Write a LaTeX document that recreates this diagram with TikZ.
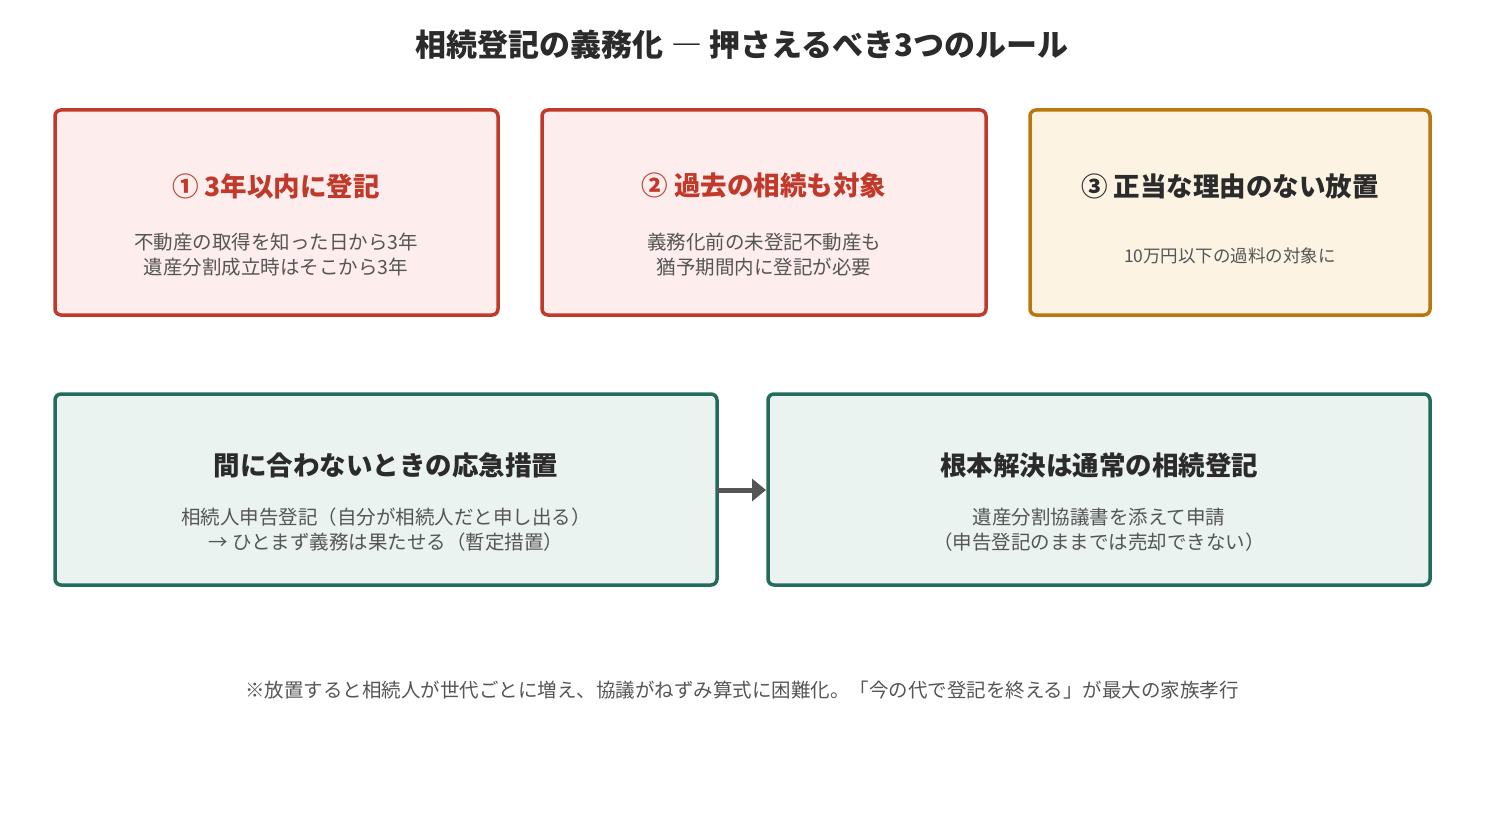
\documentclass[tikz,border=0pt]{standalone}
\usepackage{fontspec}
\setmainfont{Noto Sans CJK JP}
\usetikzlibrary{positioning,arrows.meta}
\definecolor{redline}{HTML}{C0392B}
\definecolor{redfill}{HTML}{FDEDEC}
\definecolor{orline}{HTML}{B9770E}
\definecolor{orfill}{HTML}{FCF3E3}
\definecolor{grline}{HTML}{236B5A}
\definecolor{grfill}{HTML}{EAF3EF}
\definecolor{bodytxt}{HTML}{555555}
\definecolor{headtxt}{HTML}{2B2B2B}
\begin{document}
\begin{tikzpicture}[x=1pt,y=-1pt,
  box/.style={draw,line width=3.5pt,rounded corners=6pt},
  head/.style={font=\fontsize{26.5}{30}\selectfont\bfseries,align=center},
  body/.style={font=\fontsize{19.5}{25}\selectfont,text=bodytxt,align=center}]
  \useasboundingbox (0,0) rectangle (1485,824);

  \node[font=\fontsize{31}{36}\selectfont\bfseries,text=headtxt] (title) at (742,45)
    {相続登記の義務化 ― 押さえるべき3つのルール};

  % three rules
  \draw[box,draw=redline,fill=redfill] (55,110) rectangle (498,315);
  \node[head,text=redline] (h1) at (276,186) {① 3年以内に登記};
  \node[body] (b1) at (276,255) {不動産の取得を知った日から3年\\遺産分割成立時はそこから3年};

  \draw[box,draw=orline,fill=orfill] (1030,110) rectangle (1430,315);
  \node[head,text=headtxt] (h3) at (1230,186) {③ 正当な理由のない放置};
  \node[body,font=\fontsize{17.5}{22}\selectfont] (b3) at (1230,256) {10万円以下の過料の対象に};

  \draw[box,draw=redline,fill=redfill] (542,110) rectangle (986,315);
  \node[head,text=redline] (h2) at (764,186) {② 過去の相続も対象};
  \node[body] (b2) at (764,255) {義務化前の未登記不動産も\\猶予期間内に登記が必要};

  % measures
  \draw[box,draw=grline,fill=grfill] (55,394) rectangle (717,585);
  \node[head,text=headtxt] (h4) at (386,465) {間に合わないときの応急措置};
  \node[body] (b4) at (386,530) {相続人申告登記（自分が相続人だと申し出る）\\→ ひとまず義務は果たせる（暫定措置）};
  \coordinate (p) at (717,490);

  \draw[box,draw=grline,fill=grfill] (768,394) rectangle (1430,585);
  \node[head,text=headtxt] (h5) at (1099,465) {根本解決は通常の相続登記};
  \node[body] (b5) at (1099,530) {遺産分割協議書を添えて申請\\（申告登記のままでは売却できない）};
  \coordinate (q) at (766,490);

  \draw[line width=5pt,draw=bodytxt,-{Triangle[length=14pt,width=22pt]}] (p) -- (q);

  \node[body] (note) at (742,690)
    {※放置すると相続人が世代ごとに増え、協議がねずみ算式に困難化。「今の代で登記を終える」が最大の家族孝行};
\end{tikzpicture}
\end{document}
